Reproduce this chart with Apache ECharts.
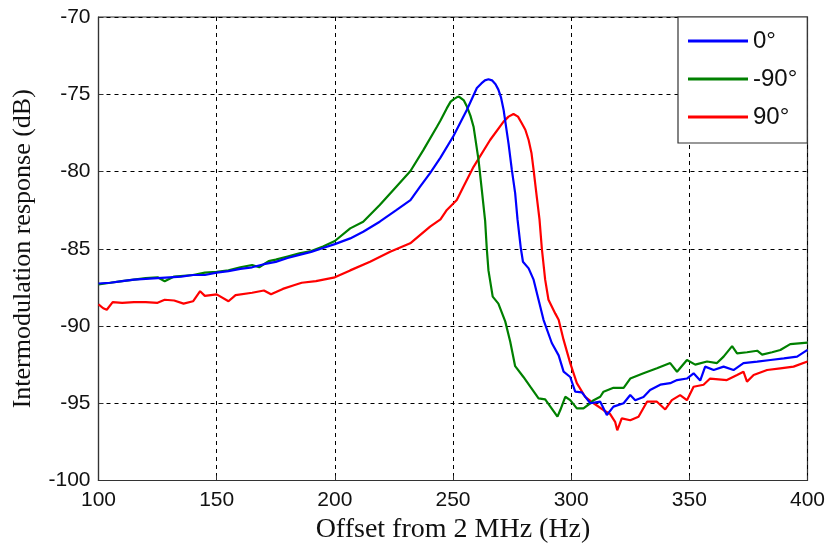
<!DOCTYPE html>
<html>
<head>
<meta charset="utf-8">
<script src="https://cdn.jsdelivr.net/npm/echarts@6/dist/echarts.min.js"></script>
<style>html,body{margin:0;padding:0;background:#fff}#c{width:829px;height:549px}</style>
</head>
<body>
<div id="c"></div>
<script>
const xTicks = [100, 150, 200, 250, 300, 350, 400];
const yTicks = [-100, -95, -90, -85, -80, -75, -70];
const seriesNames = ['0°', '-90°', '90°'];

const blueX = [100,105,110,115,120,125,130,135,140,145,150,155,160,165,170,175,180,185,190,195,200,206.5,212,219,226,232,236,240.3,244.7,250.2,255.9,260.1,262,263.5,265,266.5,268,269.2,270.3,271.4,273.5,274.9,276.3,277.3,278.7,279.6,282,284.1,286.2,288.3,291.8,294.7,296.8,299.6,301.7,304.5,308.1,312.3,315.1,317.9,322.2,325,327.1,330.6,333.4,337.7,341.9,344.8,349,351.8,354.6,356.7,360.3,364.5,368.7,372.9,378.7,384.3,390,395.6,400];
const blueY = [-87.25,-87.2,-87.1,-87.0,-86.95,-86.9,-86.85,-86.8,-86.7,-86.7,-86.55,-86.45,-86.3,-86.2,-86.0,-85.85,-85.6,-85.4,-85.2,-84.95,-84.7,-84.33,-83.9,-83.25,-82.5,-81.85,-81.0,-80.1,-79.1,-77.7,-76.0,-74.6,-74.3,-74.1,-74.03,-74.1,-74.35,-74.7,-75.2,-76.0,-78.2,-79.9,-81.4,-83.1,-84.97,-85.84,-86.27,-87.0,-88.3,-89.6,-91.1,-91.9,-92.95,-93.3,-94.25,-94.3,-95.0,-94.9,-95.76,-95.22,-95.0,-94.47,-94.8,-94.6,-94.14,-93.8,-93.7,-93.5,-93.4,-93.06,-93.53,-92.63,-92.85,-92.63,-92.85,-92.4,-92.3,-92.2,-92.1,-91.98,-91.55];

const greenX = [100,105,110,115,120,125,128,132,140,145,150,155,160,165,168,172,175,180,185,190,195,200,206.5,212,219,226,232,237.5,243.2,244.7,247.4,249,250.5,251.6,252.5,253.2,254.6,255.9,257.4,258.7,260.8,262.2,263.6,264.3,265,266.8,269.2,272.1,274.2,276.3,279.8,282.7,286.2,289,291.2,294.2,295.4,297.5,299.6,302.4,305.2,308.1,309.5,312.3,313.7,317.9,322.2,325,330.6,336.3,341.9,344.8,349,352.5,357.5,361.7,364.5,368.1,370.2,374.4,378.7,380.8,385,388.5,392.7,400];
const greenY = [-87.3,-87.2,-87.1,-87.0,-86.9,-86.85,-87.1,-86.8,-86.7,-86.55,-86.5,-86.4,-86.2,-86.05,-86.2,-85.8,-85.7,-85.5,-85.3,-85.15,-84.85,-84.5,-83.68,-83.25,-82.17,-80.98,-79.97,-78.6,-77.1,-76.7,-75.9,-75.48,-75.3,-75.2,-75.15,-75.2,-75.4,-75.8,-76.4,-77.1,-79.25,-81.2,-83.2,-85.0,-86.4,-88.1,-88.55,-89.7,-91.0,-92.6,-93.3,-93.93,-94.68,-94.75,-95.22,-95.87,-95.44,-94.58,-94.8,-95.33,-95.33,-95.0,-94.8,-94.58,-94.25,-94.0,-94.0,-93.4,-93.06,-92.74,-92.4,-92.96,-92.2,-92.5,-92.3,-92.4,-91.98,-91.3,-91.77,-91.7,-91.6,-91.85,-91.7,-91.55,-91.17,-91.08];

const redX = [100,102,103.5,106,110,115,120,125,128,132,136,140,143,145,150,155,158,165,170,173,178,183,186,192,200,206.5,214.9,223.4,231.9,240.3,244.7,247.4,251.6,254.4,258.7,265.7,271.4,273.5,275.6,277.5,279.1,280.6,282,283.2,284.1,285.5,286.6,287.6,289,290.4,293.3,294.7,296.8,299.6,302.4,305.9,309.5,313.7,316.5,318.6,319.5,321.4,325,328.5,332.1,336.3,339.8,342.6,346.1,349,351.8,356,358.8,365.9,370.2,372.9,374.4,377.2,382.9,388.5,394.1,400];
const redY = [-88.6,-88.85,-88.95,-88.45,-88.5,-88.45,-88.45,-88.5,-88.3,-88.35,-88.55,-88.4,-87.75,-88.05,-87.95,-88.4,-88.0,-87.85,-87.7,-87.95,-87.6,-87.35,-87.2,-87.1,-86.85,-86.4,-85.84,-85.2,-84.65,-83.57,-83.1,-82.49,-81.85,-80.98,-79.7,-77.96,-76.77,-76.45,-76.28,-76.45,-76.88,-77.3,-77.96,-78.8,-79.9,-81.7,-83.1,-85.0,-87.0,-88.3,-89.2,-89.6,-90.9,-92.4,-93.7,-94.58,-95.0,-95.45,-95.7,-96.2,-96.75,-95.98,-96.1,-95.87,-94.9,-94.9,-95.4,-94.8,-94.47,-94.8,-93.93,-93.8,-93.4,-93.5,-93.17,-92.96,-93.6,-93.17,-92.85,-92.74,-92.63,-92.3];

const pairs = (xs, ys) => xs.map((x, i) => [x, ys[i]]);
const colors = ['#0000ff', '#008000', '#ff0000'];
const datasets = [pairs(blueX, blueY), pairs(greenX, greenY), pairs(redX, redY)];

const chart = echarts.init(document.getElementById('c'), null, {renderer: 'canvas'});
const tickFont = {fontFamily: '"Liberation Sans", Arial, sans-serif', fontSize: 21, color: '#111'};
const grid = {type: [4, 4], color: '#000', width: 1};

chart.setOption({
  animation: false,
  backgroundColor: '#fff',
  grid: {left: 98.5, right: 21.5, top: 17, bottom: 68.5, show: true, borderColor: '#333', borderWidth: 1.2, backgroundColor: 'transparent'},
  legend: {
    orient: 'vertical', left: 678, top: 17,
    backgroundColor: '#fff', borderColor: '#333', borderWidth: 1.2,
    padding: [12, 10, 14, 10], itemGap: 14, itemWidth: 60, itemHeight: 3,
    icon: 'rect',
    textStyle: {fontFamily: '"Liberation Sans", Arial, sans-serif', fontSize: 24, color: '#111'},
    data: seriesNames
  },
  xAxis: {
    type: 'value', min: xTicks[0], max: xTicks[xTicks.length - 1], interval: 50,
    name: 'Offset from 2 MHz (Hz)', nameLocation: 'middle', nameGap: 35,
    nameTextStyle: {fontFamily: '"Liberation Serif", "Times New Roman", serif', fontSize: 28, color: '#111'},
    axisLine: {show: true, lineStyle: {color: '#333', width: 1.2}},
    axisTick: {show: true, inside: true, length: 5, lineStyle: {color: '#333'}},
    axisLabel: Object.assign({margin: 9}, tickFont),
    splitLine: {show: true, lineStyle: grid}
  },
  yAxis: {
    type: 'value', min: yTicks[0], max: yTicks[yTicks.length - 1], interval: 5,
    name: 'Intermodulation response (dB)', nameLocation: 'middle', nameGap: 62,
    nameTextStyle: {fontFamily: '"Liberation Serif", "Times New Roman", serif', fontSize: 26, color: '#111'},
    axisLine: {show: true, lineStyle: {color: '#333', width: 1.2}},
    axisTick: {show: true, inside: true, length: 5, lineStyle: {color: '#333'}},
    axisLabel: Object.assign({margin: 8}, tickFont),
    splitLine: {show: true, lineStyle: grid}
  },
  series: seriesNames.map((n, i) => ({
    name: n, type: 'line', data: datasets[i], symbol: 'none', smooth: false,
    lineStyle: {color: colors[i], width: 2.2}, itemStyle: {color: colors[i]}, z: 3 - i
  }))
});
</script>
</body>
</html>
